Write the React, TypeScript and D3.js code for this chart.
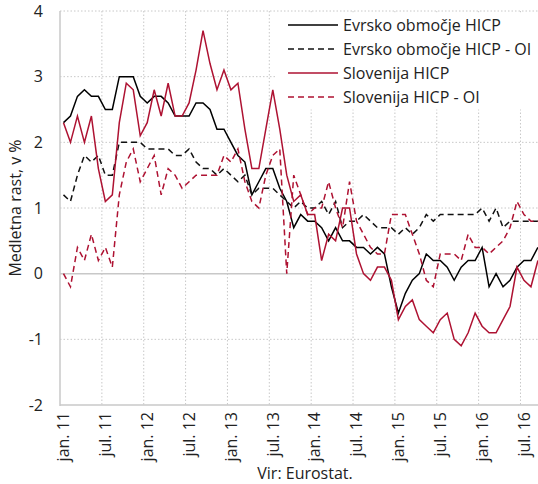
import React from "react";
import * as d3 from "d3";

const monthCount = 69; // jan. 2011 – sep. 2016
const months = d3.range(monthCount);

const tickLabels = [
  "jan. 11", "jul. 11", "jan. 12", "jul. 12", "jan. 13", "jul. 13",
  "jan. 14", "jul. 14", "jan. 15", "jul. 15", "jan. 16", "jul. 16",
];
const tickIndex = [0, 6, 12, 18, 24, 30, 36, 42, 48, 54, 60, 66];
const yTicks = [4, 3, 2, 1, 0, -1, -2];

const euroHICP = [
  2.3, 2.4, 2.7, 2.8, 2.7, 2.7, 2.5, 2.5, 3.0, 3.0, 3.0, 2.7,
  2.6, 2.7, 2.7, 2.6, 2.4, 2.4, 2.4, 2.6, 2.6, 2.5, 2.2, 2.2,
  2.0, 1.8, 1.7, 1.2, 1.4, 1.6, 1.6, 1.3, 1.1, 0.7, 0.9, 0.8,
  0.8, 0.7, 0.5, 0.7, 0.5, 0.5, 0.4, 0.4, 0.3, 0.4, 0.3, -0.2,
  -0.6, -0.3, -0.1, 0.0, 0.3, 0.2, 0.2, 0.1, -0.1, 0.1, 0.2, 0.2,
  0.4, -0.2, 0.0, -0.2, -0.1, 0.1, 0.2, 0.2, 0.4,
];
const euroOI = [
  1.2, 1.1, 1.5, 1.8, 1.7, 1.8, 1.5, 1.5, 2.0, 2.0, 2.0, 2.0,
  1.9, 1.9, 1.9, 1.9, 1.8, 1.8, 1.9, 1.7, 1.6, 1.6, 1.5, 1.6,
  1.5, 1.4, 1.5, 1.2, 1.3, 1.3, 1.3, 1.2, 1.1, 1.0, 1.1, 1.0,
  1.0, 1.1, 0.9, 1.1, 0.7, 0.8, 0.8, 0.9, 0.8, 0.7, 0.7, 0.7,
  0.6, 0.7, 0.6, 0.7, 0.9, 0.8, 0.9, 0.9, 0.9, 0.9, 0.9, 0.9,
  1.0, 0.8, 1.0, 0.7, 0.8, 0.8, 0.8, 0.8, 0.8,
];
const sloHICP = [
  2.3, 2.0, 2.4, 2.0, 2.4, 1.6, 1.1, 1.2, 2.3, 2.9, 2.8, 2.1,
  2.3, 2.8, 2.4, 2.9, 2.4, 2.4, 2.6, 3.1, 3.7, 3.2, 2.8, 3.1,
  2.8, 2.9, 2.2, 1.6, 1.6, 2.2, 2.8, 2.2, 1.5, 1.1, 1.2, 0.9,
  0.9, 0.2, 0.6, 0.5, 1.0, 1.0, 0.3, 0.0, -0.1, 0.1, 0.1, -0.1,
  -0.7, -0.5, -0.4, -0.7, -0.8, -0.9, -0.7, -0.6, -1.0, -1.1, -0.9, -0.6,
  -0.8, -0.9, -0.9, -0.7, -0.5, 0.1, -0.1, -0.2, 0.2,
];
const sloOI = [
  0.0, -0.2, 0.4, 0.2, 0.6, 0.2, 0.4, 0.1, 1.2, 1.7, 1.9, 1.4,
  1.6, 1.8, 1.2, 1.6, 1.5, 1.3, 1.4, 1.5, 1.5, 1.5, 1.5, 1.8,
  1.7, 1.9, 1.4, 1.1, 1.0, 1.5, 1.8, 1.9, 0.0, 1.5, 1.2, 0.9,
  1.0, 1.0, 1.4, 1.0, 0.7, 1.4, 0.8, 0.6, 0.4, 0.3, 0.3, 0.9,
  0.9, 0.9, 0.6, 0.3, -0.1, -0.2, 0.3, 0.3, 0.3, 0.2, 0.6, 0.4,
  0.4, 0.3, 0.4, 0.5, 0.7, 1.1, 0.9, 0.8, 0.8,
];

const seriesNames = [
  "Evrsko območje HICP",
  "Evrsko območje HICP - OI",
  "Slovenija HICP",
  "Slovenija HICP - OI",
];
const seriesData = [euroHICP, euroOI, sloHICP, sloOI];

const BLACK = "#000000";
const RED = "#ae1232";
const GRID = "#c8c8c8";
const seriesStyle = [
  { color: BLACK, dash: "" },
  { color: "#111111", dash: "6,4" },
  { color: RED, dash: "" },
  { color: RED, dash: "6,4" },
];

const FONT = "'Open Sans', 'Noto Sans', sans-serif";
const FS = 16;

export default function App() {
  const W = 538;
  const H = 484;
  const left = 60;
  const top = 11;
  const bottom = 405;
  const step = 6.977;
  const x = d3
    .scaleBand<number>()
    .domain(months)
    .range([left, left + step * monthCount])
    .padding(0);
  const y = d3.scaleLinear().domain([-2, 4]).range([bottom, top]);
  const cx = (i: number) => (x(i) as number) + x.bandwidth() / 2;

  const line = (vals: number[]) =>
    d3
      .line<number>()
      .x((_, i) => cx(i))
      .y((v) => y(v))(vals) as string;

  const legendX = 288;
  const legendY = [25, 49, 73, 97];

  return (
    <svg
      width={W}
      height={H}
      style={{ position: "absolute", left: 0, top: 0, background: "#fff" }}
      fontFamily={FONT}
    >
      {yTicks.map((t) => (
        <line
          key={"h" + t}
          x1={left}
          x2={W}
          y1={y(t)}
          y2={y(t)}
          stroke={GRID}
          strokeWidth={t === 0 || t === -2 ? 1.5 : 1}
          strokeDasharray={t === 0 || t === -2 ? "" : "1.5,2"}
        />
      ))}
      {tickIndex.slice(1).map((i) => (
        <line
          key={"v" + i}
          x1={x(i) as number}
          x2={x(i) as number}
          y1={top}
          y2={bottom}
          stroke={GRID}
          strokeDasharray="1.5,2"
        />
      ))}
      <rect x={277} y={12.5} width={W - 277} height={97} fill="#fff" />
      <line x1={left} x2={left} y1={top} y2={bottom + 1} stroke={GRID} strokeWidth={1.5} />

      {seriesData.map((vals, k) => (
        <path
          key={"s" + k}
          d={line(vals)}
          fill="none"
          stroke={seriesStyle[k].color}
          strokeWidth={1.5}
          strokeDasharray={seriesStyle[k].dash}
          strokeLinejoin="miter"
        />
      ))}

      {yTicks.map((t) => (
        <text
          key={"yl" + t}
          x={43}
          y={y(t)}
          dy="0.36em"
          textAnchor="end"
          fontSize={FS}
          fill="#222"
        >
          {t}
        </text>
      ))}

      {tickIndex.map((i, k) => (
        <text
          key={"xl" + i}
          transform={`translate(${cx(i)},${412}) rotate(-90)`}
          dy="0.36em"
          textAnchor="end"
          fontSize={FS}
          fill="#222"
        >
          {tickLabels[k]}
        </text>
      ))}

      <text
        transform={`translate(${15},${(top + bottom) / 2}) rotate(-90)`}
        textAnchor="middle"
        dy="0.36em"
        fontSize={FS}
        fill="#222"
      >
        Medletna rast, v %
      </text>

      <text x={305} y={479} textAnchor="middle" fontSize={FS} fill="#222">
        Vir: Eurostat.
      </text>

      {seriesNames.map((name, k) => (
        <g key={"lg" + k}>
          <line
            x1={legendX}
            x2={legendX + 50}
            y1={legendY[k]}
            y2={legendY[k]}
            stroke={seriesStyle[k].color}
            strokeWidth={1.5}
            strokeDasharray={seriesStyle[k].dash}
          />
          <text x={343} y={legendY[k]} dy="0.36em" fontSize={FS} fill="#222">
            {name}
          </text>
        </g>
      ))}
    </svg>
  );
}
